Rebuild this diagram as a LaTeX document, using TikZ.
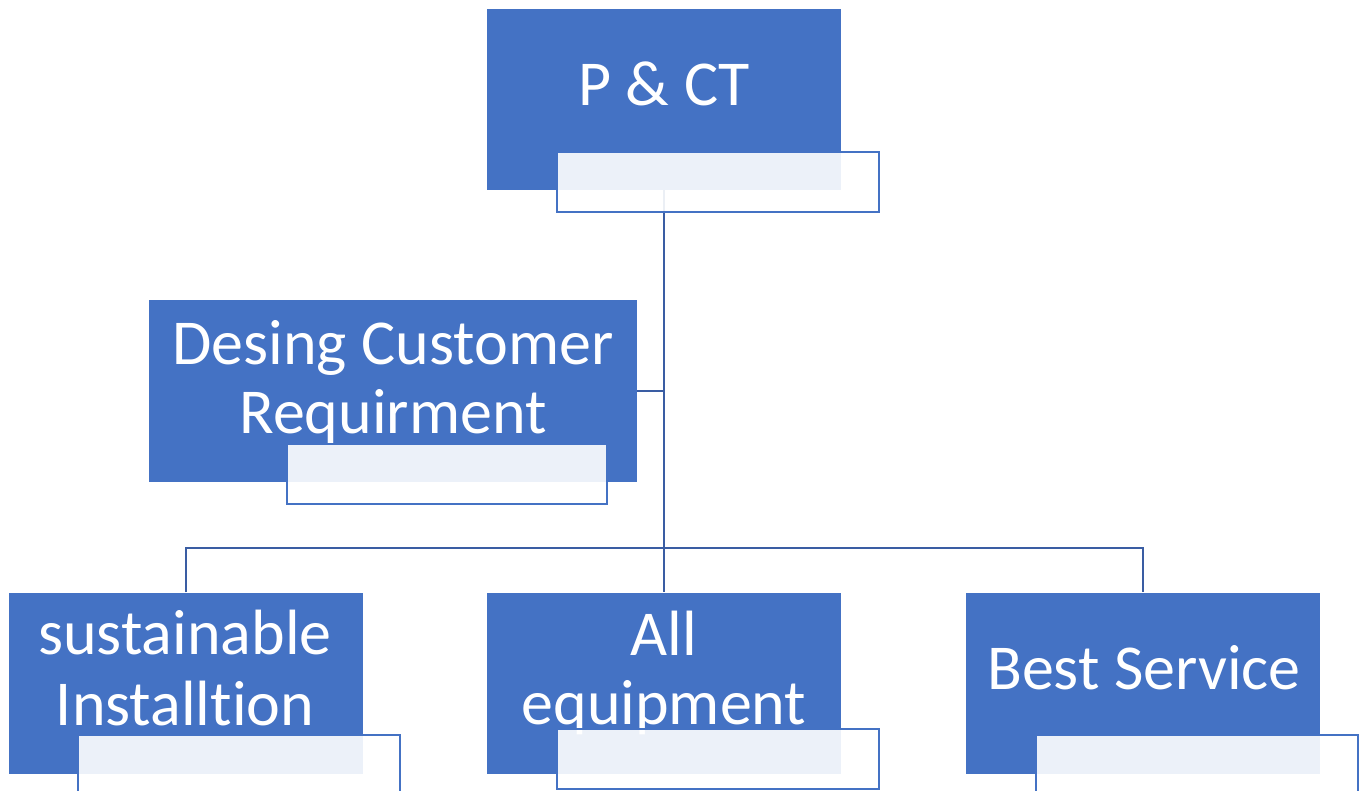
\documentclass[tikz,border=0pt]{standalone}
\usepackage{fontspec}
\setmainfont{Carlito}[Ligatures=NoCommon]
\definecolor{boxblue}{HTML}{4472C4}
\definecolor{connblue}{HTML}{3A5DA3}
\pgfdeclarelayer{background}
\pgfdeclarelayer{back0}
\pgfsetlayers{back0,background,main}
\begin{document}
\begin{tikzpicture}[x=1pt,y=-1pt,
  mainbox/.style={fill=boxblue,draw=none,inner sep=0pt,minimum height=181pt,minimum width=354pt},
  subbox/.style={draw=boxblue,line width=1.8pt,fill=white,fill opacity=0.9,inner sep=0pt,minimum width=322pt,minimum height=60pt},
  lbl/.style={text=white,anchor=base,inner sep=0pt,font=\fontsize{64}{70}\selectfont},
  conn/.style={draw=connblue,line width=2pt}]
\useasboundingbox (0,0) rectangle (1365,791);
\begin{pgfonlayer}{back0}
\fill[white] (0,0) rectangle (1365,791);
\end{pgfonlayer}
% main boxes
\node[mainbox] (pct) at (664,99.5) {};
\node[mainbox,minimum width=488pt,minimum height=182pt] (des) at (393,391) {};
\node[mainbox] (sus) at (185.5,683) {};
\node[mainbox] (eq) at (664,683) {};
\node[mainbox] (best) at (1143,683) {};
% labels
\node[lbl] (pctl) at (664,106) {P \& CT};
\node[lbl] (desl1) at (393,364) {Desing Customer};
\node[lbl] (desl2) at (393,433) {Requirment};
\node[lbl] (susl1) at (185,654) {sustainable};
\node[lbl] (susl2) at (185,725) {Installtion};
\node[lbl] (eql1) at (664,655) {All};
\node[lbl] (eql2) at (664,724) {equipment};
\node[lbl] (bestl) at (1144,689) {Best Service};
% sub boxes
\node[subbox] (pcts) at (718,182) {};
\node[subbox,minimum width=320pt] (dess) at (447,474) {};
\node[subbox] (suss) at (239,765) {};
\node[subbox] (eqs) at (718,759) {};
\node[subbox] (bests) at (1197,765) {};
% connectors
\coordinate (j) at (664,548);
\begin{pgfonlayer}{background}
\draw[conn] (pct.south) -- (eq.north);
\draw[conn] (sus.north) |- (j) -| (best.north);
\draw[conn] (des.east) -- (des.east -| pct.south);
\end{pgfonlayer}
\end{tikzpicture}
\end{document}
